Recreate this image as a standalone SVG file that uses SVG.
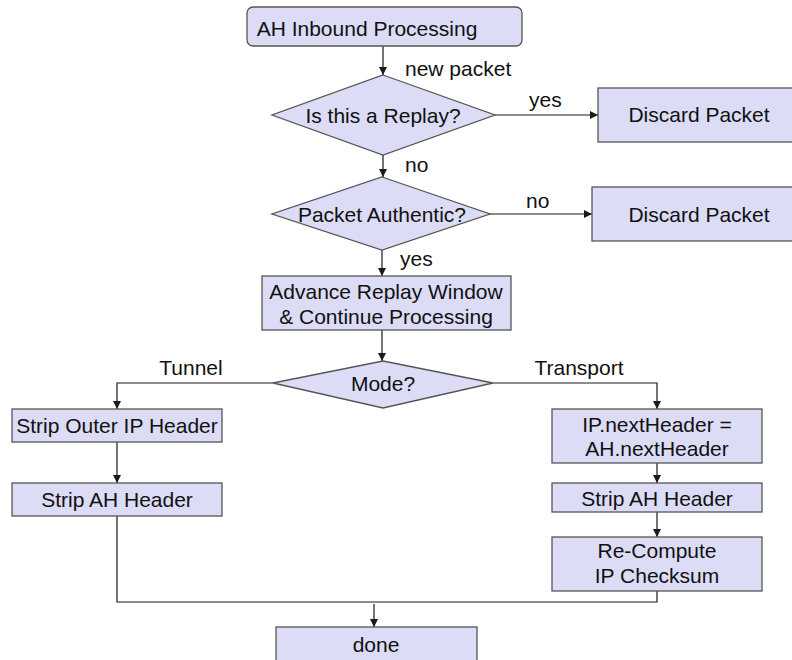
<svg xmlns="http://www.w3.org/2000/svg" width="792" height="660" viewBox="0 0 792 660">
  <style>
    .box { fill: #dcdcf6; stroke: #555555; stroke-width: 1.3; }
    .line { fill: none; stroke: #1a1a1a; stroke-width: 1.2; }
    .t { font-family: "Liberation Sans", Arial, sans-serif; font-size: 21px; fill: #111111; }
    .m { text-anchor: middle; }
  </style>
  <defs>
    <marker id="arrow" viewBox="0 0 10 10" refX="10" refY="5" markerWidth="8" markerHeight="8" markerUnits="userSpaceOnUse" orient="auto">
      <path d="M0,0 L10,5 L0,10 z" fill="#1a1a1a"/>
    </marker>
  </defs>
  <rect width="792" height="660" fill="#ffffff"/>

  <g id="connectors">
    <line class="line" x1="383" y1="46" x2="383" y2="75" marker-end="url(#arrow)"/>
    <line class="line" x1="495" y1="115" x2="598" y2="115" marker-end="url(#arrow)"/>
    <line class="line" x1="383" y1="155" x2="383" y2="177" marker-end="url(#arrow)"/>
    <line class="line" x1="490" y1="214" x2="592" y2="214" marker-end="url(#arrow)"/>
    <line class="line" x1="382" y1="250" x2="382" y2="276" marker-end="url(#arrow)"/>
    <line class="line" x1="382" y1="330" x2="382" y2="361" marker-end="url(#arrow)"/>
    <polyline class="line" points="273,383 117,383 117,409" marker-end="url(#arrow)"/>
    <polyline class="line" points="493,383 657,383 657,409" marker-end="url(#arrow)"/>
    <line class="line" x1="117" y1="442" x2="117" y2="483" marker-end="url(#arrow)"/>
    <line class="line" x1="657" y1="463" x2="657" y2="483" marker-end="url(#arrow)"/>
    <line class="line" x1="657" y1="512" x2="657" y2="537" marker-end="url(#arrow)"/>
    <polyline class="line" points="117,516 117,602 657,602 657,591"/>
    <line class="line" x1="374" y1="604" x2="374" y2="627" marker-end="url(#arrow)"/>
    <text class="t" x="405" y="76">new packet</text>
    <text class="t" x="529" y="107">yes</text>
    <text class="t" x="405" y="172">no</text>
    <text class="t" x="526" y="208">no</text>
    <text class="t" x="400" y="266">yes</text>
    <text class="t m" x="191" y="375">Tunnel</text>
    <text class="t m" x="579" y="375">Transport</text>
  </g>

  <g id="start">
    <rect class="box" x="247" y="7" width="275" height="39" rx="6"/>
    <text class="t m" x="367" y="36">AH Inbound Processing</text>
  </g>

  <g id="replay-check">
    <polygon class="box" points="383,75 495,115 383,155 272,115"/>
    <text class="t m" x="383" y="123">Is this a Replay?</text>
  </g>

  <g id="discard-replay">
    <rect class="box" x="598" y="88" width="210" height="54"/>
    <text class="t m" x="699" y="122">Discard Packet</text>
  </g>

  <g id="auth-check">
    <polygon class="box" points="382,177 490,214 382,250 272,214"/>
    <text class="t m" x="382" y="222">Packet Authentic?</text>
  </g>

  <g id="discard-auth">
    <rect class="box" x="592" y="187" width="210" height="54"/>
    <text class="t m" x="699" y="222">Discard Packet</text>
  </g>

  <g id="advance">
    <rect class="box" x="262" y="276" width="249" height="54"/>
    <text class="t m" x="386" y="299">Advance Replay Window</text>
    <text class="t m" x="386" y="324">&amp; Continue Processing</text>
  </g>

  <g id="mode">
    <polygon class="box" points="383,361 493,383 383,408 273,383"/>
    <text class="t m" x="383" y="391">Mode?</text>
  </g>

  <g id="strip-outer">
    <rect class="box" x="12" y="409" width="210" height="33"/>
    <text class="t m" x="117" y="433">Strip Outer IP Header</text>
  </g>

  <g id="strip-ah-tunnel">
    <rect class="box" x="12" y="483" width="210" height="33"/>
    <text class="t m" x="117" y="507">Strip AH Header</text>
  </g>

  <g id="next-header">
    <rect class="box" x="552" y="409" width="210" height="54"/>
    <text class="t m" x="657" y="432">IP.nextHeader =</text>
    <text class="t m" x="657" y="456">AH.nextHeader</text>
  </g>

  <g id="strip-ah-transport">
    <rect class="box" x="552" y="483" width="210" height="29"/>
    <text class="t m" x="657" y="506">Strip AH Header</text>
  </g>

  <g id="recompute">
    <rect class="box" x="552" y="537" width="210" height="54"/>
    <text class="t m" x="657" y="558">Re-Compute</text>
    <text class="t m" x="657" y="583">IP Checksum</text>
  </g>

  <g id="done">
    <rect class="box" x="276" y="627" width="201" height="45"/>
    <text class="t m" x="376" y="652">done</text>
  </g>
</svg>
